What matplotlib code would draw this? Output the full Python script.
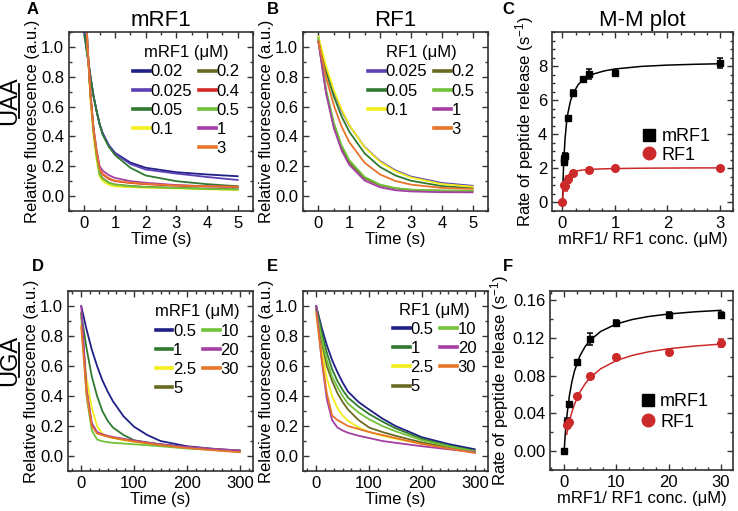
import matplotlib
matplotlib.use("Agg")
import matplotlib.pyplot as plt
from matplotlib.lines import Line2D
from matplotlib.ticker import MultipleLocator

plt.rcParams['font.family'] = ['Liberation Sans', 'DejaVu Sans']
plt.rcParams['mathtext.fontset'] = 'custom'
plt.rcParams['mathtext.rm'] = 'Liberation Sans'
plt.rcParams['mathtext.it'] = 'Liberation Sans:italic'

# colours per concentration
C_NAVY = '#1f1f86'
C_SLATE = '#5b3fb4'
C_DGREEN = '#2f7a30'
C_YELLOW = '#f2ee1c'
C_OLIVE = '#6b6a22'
C_RED = '#d42a24'
C_LGREEN = '#72c23a'
C_PURPLE = '#a43fa4'
C_ORANGE = '#e8742a'
C_MMRED = '#cc2a2a'

# ---- A: UAA, mRF1 time courses ----
t_a = [0, 0.1, 0.2, 0.3, 0.4, 0.5, 0.6, 0.8, 1.0, 1.5, 2, 3, 4, 5]
a_conc = ['0.02', '0.025', '0.05', '0.1', '0.2', '0.4', '0.5', '1', '3']
a_cols = [C_NAVY, C_SLATE, C_DGREEN, C_YELLOW, C_OLIVE, C_RED, C_LGREEN, C_PURPLE, C_ORANGE]
a_002 = [1.10, 0.95, 0.80, 0.67, 0.57, 0.48, 0.42, 0.34, 0.29, 0.225, 0.19, 0.16, 0.145, 0.133]
a_0025 = [1.10, 0.95, 0.80, 0.67, 0.57, 0.48, 0.42, 0.34, 0.285, 0.215, 0.178, 0.151, 0.128, 0.108]
a_005 = [1.08, 0.94, 0.80, 0.67, 0.57, 0.48, 0.41, 0.33, 0.275, 0.19, 0.138, 0.10, 0.08, 0.066]
a_01 = [1.55, 1.00, 0.64, 0.40, 0.24, 0.13, 0.10, 0.075, 0.064, 0.06, 0.056, 0.052, 0.046, 0.040]
a_02 = [1.55, 1.02, 0.68, 0.44, 0.28, 0.15, 0.12, 0.09, 0.078, 0.068, 0.062, 0.056, 0.050, 0.046]
a_04 = [1.55, 1.02, 0.68, 0.44, 0.29, 0.175, 0.145, 0.115, 0.10, 0.088, 0.08, 0.07, 0.065, 0.063]
a_05 = [1.55, 1.02, 0.67, 0.43, 0.27, 0.145, 0.115, 0.088, 0.076, 0.066, 0.06, 0.054, 0.048, 0.044]
a_1 = [1.55, 1.03, 0.69, 0.46, 0.31, 0.20, 0.17, 0.14, 0.122, 0.10, 0.089, 0.074, 0.066, 0.06]
a_3 = [1.55, 1.02, 0.68, 0.45, 0.30, 0.18, 0.15, 0.12, 0.103, 0.09, 0.082, 0.071, 0.066, 0.062]
a_curves = [a_002, a_0025, a_005, a_01, a_02, a_04, a_05, a_1, a_3]

# ---- B: UAA, RF1 time courses ----
t_b = [0, 0.25, 0.5, 0.75, 1, 1.5, 2, 2.5, 3, 4, 5]
b_conc = ['0.025', '0.05', '0.1', '0.2', '0.5', '1', '3']
b_cols = [C_SLATE, C_DGREEN, C_YELLOW, C_OLIVE, C_LGREEN, C_PURPLE, C_ORANGE]
b_0025 = [1.035, 0.848, 0.696, 0.573, 0.474, 0.329, 0.234, 0.172, 0.131, 0.088, 0.069]
b_005 = [1.045, 0.834, 0.667, 0.535, 0.432, 0.286, 0.195, 0.138, 0.103, 0.067, 0.054]
b_01 = [1.07, 0.871, 0.710, 0.581, 0.477, 0.326, 0.229, 0.166, 0.125, 0.081, 0.063]
b_02 = [1.035, 0.697, 0.473, 0.325, 0.227, 0.119, 0.072, 0.051, 0.042, 0.036, 0.035]
b_05 = [1.06, 0.715, 0.493, 0.342, 0.241, 0.128, 0.077, 0.054, 0.043, 0.037, 0.035]
b_1 = [1.035, 0.686, 0.456, 0.307, 0.210, 0.104, 0.059, 0.039, 0.031, 0.026, 0.025]
b_3 = [1.04, 0.795, 0.608, 0.467, 0.362, 0.223, 0.145, 0.101, 0.077, 0.055, 0.048]
b_curves = [b_0025, b_005, b_01, b_02, b_05, b_1, b_3]

# ---- D: UGA, mRF1 time courses ----
t_d = [0, 10, 20, 30, 40, 50, 60, 80, 100, 125, 150, 200, 250, 300]
d_conc = ['0.5', '1', '2.5', '5', '10', '20', '30']
d_cols = [C_NAVY, C_DGREEN, C_YELLOW, C_OLIVE, C_LGREEN, C_PURPLE, C_ORANGE]
d_05 = [1.0, 0.845, 0.71, 0.60, 0.505, 0.43, 0.365, 0.265, 0.195, 0.14, 0.10, 0.065, 0.048, 0.036]
d_1 = [0.95, 0.72, 0.53, 0.40, 0.30, 0.235, 0.19, 0.14, 0.105, 0.09, 0.078, 0.058, 0.045, 0.035]
d_25 = [0.88, 0.52, 0.32, 0.20, 0.15, 0.13, 0.12, 0.105, 0.095, 0.082, 0.072, 0.057, 0.045, 0.035]
d_5 = [0.95, 0.44, 0.21, 0.155, 0.14, 0.13, 0.122, 0.11, 0.10, 0.088, 0.077, 0.058, 0.045, 0.035]
d_10 = [0.95, 0.40, 0.17, 0.11, 0.098, 0.092, 0.088, 0.083, 0.078, 0.072, 0.065, 0.05, 0.04, 0.03]
d_20 = [1.0, 0.45, 0.22, 0.16, 0.145, 0.135, 0.127, 0.115, 0.103, 0.09, 0.078, 0.06, 0.047, 0.037]
d_30 = [0.86, 0.42, 0.20, 0.15, 0.14, 0.13, 0.122, 0.11, 0.097, 0.085, 0.073, 0.053, 0.038, 0.025]
d_curves = [d_05, d_1, d_25, d_5, d_10, d_20, d_30]

# ---- E: UGA, RF1 time courses ----
t_e = t_d
e_conc = d_conc
e_cols = d_cols
e_05 = [1.0, 0.86, 0.74, 0.64, 0.56, 0.49, 0.43, 0.36, 0.31, 0.25, 0.20, 0.125, 0.08, 0.045]
e_1 = [1.0, 0.83, 0.69, 0.58, 0.50, 0.44, 0.39, 0.33, 0.28, 0.23, 0.185, 0.115, 0.07, 0.035]
e_25 = [0.98, 0.72, 0.52, 0.40, 0.32, 0.27, 0.235, 0.19, 0.16, 0.135, 0.115, 0.08, 0.055, 0.03]
e_5 = [0.98, 0.77, 0.60, 0.50, 0.42, 0.36, 0.31, 0.24, 0.19, 0.16, 0.135, 0.09, 0.06, 0.03]
e_10 = [0.97, 0.79, 0.64, 0.53, 0.46, 0.40, 0.35, 0.29, 0.245, 0.20, 0.165, 0.105, 0.065, 0.03]
e_20 = [1.0, 0.65, 0.38, 0.24, 0.19, 0.17, 0.155, 0.135, 0.12, 0.10, 0.088, 0.065, 0.045, 0.025]
e_30 = [0.95, 0.66, 0.42, 0.27, 0.24, 0.22, 0.20, 0.18, 0.16, 0.14, 0.12, 0.08, 0.05, 0.02]
e_curves = [e_05, e_1, e_25, e_5, e_10, e_20, e_30]

# ---- C: M-M plot, UAA ----
c_m_x = [0.02, 0.025, 0.05, 0.1, 0.2, 0.4, 0.5, 1, 3]
c_m_y = [2.4, 2.55, 2.75, 4.95, 6.45, 7.25, 7.55, 7.6, 8.2]
c_m_err = [0.1, 0.15, 0.15, 0.1, 0.15, 0.1, 0.3, 0.15, 0.3]
c_r_x = [0, 0.025, 0.05, 0.1, 0.2, 0.5, 1, 3]
c_r_y = [0.0, 1.0, 0.95, 1.35, 1.75, 1.9, 2.0, 2.0]
c_r_err = [0.05, 0.1, 0.25, 0.2, 0.1, 0.1, 0.1, 0.12]
c_fit_x = [0, 0.01, 0.02, 0.03, 0.05, 0.075, 0.1, 0.15, 0.2, 0.3, 0.4, 0.6, 0.8, 1.0, 1.5, 2, 2.5, 3]
c_fit_m = [0, 1.186, 2.075, 2.767, 3.773, 4.611, 5.188, 5.929, 6.385, 6.917, 7.217, 7.545,
           7.721, 7.830, 7.981, 8.058, 8.105, 8.137]
c_fit_r = [0, 0.513, 0.82, 1.025, 1.281, 1.464, 1.577, 1.708, 1.783, 1.864, 1.907, 1.952,
           1.976, 1.990, 2.010, 2.020, 2.026, 2.030]

# ---- F: M-M plot, UGA ----
f_m_x = [0, 0.5, 1, 2.5, 5, 10, 20, 30]
f_m_y = [0.0, 0.031, 0.050, 0.095, 0.119, 0.136, 0.145, 0.145]
f_m_err = [0.001, 0.004, 0.002, 0.002, 0.006, 0.003, 0.003, 0.003]
f_r_x = [0.5, 1, 2.5, 5, 10, 20, 30]
f_r_y = [0.028, 0.031, 0.059, 0.080, 0.100, 0.105, 0.115]
f_r_err = [0.002, 0.002, 0.002, 0.002, 0.002, 0.002, 0.004]
f_fit_x = [0, 0.25, 0.5, 1, 1.5, 2, 3, 4, 5, 7, 10, 13, 16, 20, 25, 30]
f_fit_m = [0, 0.0203, 0.0359, 0.0585, 0.0741, 0.0854, 0.1009, 0.1109, 0.1179, 0.1271,
           0.1350, 0.1397, 0.1428, 0.1456, 0.1479, 0.1495]
f_fit_r = [0, 0.0096, 0.0179, 0.0313, 0.0417, 0.05, 0.0625, 0.0714, 0.0781, 0.0875,
           0.0962, 0.1016, 0.1053, 0.1087, 0.1116, 0.1136]

FS = 12
W, H = 738, 511


def box(l, r, t, b):
    return [l / W, (H - b) / H, (r - l) / W, (b - t) / H]


def style(ax, xmin, ymin):
    ax.tick_params(which='both', direction='in', top=True, right=True, labelsize=FS,
                   width=1.0, color='#333333')
    ax.tick_params(which='major', length=4)
    ax.tick_params(which='minor', length=2.5)
    ax.xaxis.set_minor_locator(MultipleLocator(xmin))
    ax.yaxis.set_minor_locator(MultipleLocator(ymin))
    for s in ax.spines.values():
        s.set_linewidth(1.2)
        s.set_color('#333333')


def decay_panel(ax, t, curves, cols, labels, title_lab, xlim, xmaj, xmin, blank_at, pad):
    for y, c in zip(curves, cols):
        ax.plot(t, y, color=c, lw=1.3)
    ax.set_xlim(*xlim)
    ax.set_ylim(-0.1, 1.1)
    ax.xaxis.set_major_locator(MultipleLocator(xmaj))
    ax.set_yticks([0, 0.2, 0.4, 0.6, 0.8, 1.0])
    ax.set_yticklabels(['0.0', '0.2', '0.4', '0.6', '0.8', '1.0'])
    style(ax, xmin, 0.1)
    ax.set_xlabel('Time (s)', fontsize=FS, labelpad=1)
    ax.set_ylabel('Relative fluorescence (a.u.)', fontsize=FS, labelpad=1)
    handles = [Line2D([], [], color=c, lw=2.6) for c in cols]
    labs = list(labels)
    if blank_at is not None:
        handles.insert(blank_at, Line2D([], [], color='none'))
        labs.insert(blank_at, '')
    leg = ax.legend(handles, labs, ncol=2, loc='upper right', frameon=False,
                    fontsize=FS, title=title_lab, title_fontsize=FS,
                    handlelength=1.0, handletextpad=0.05, columnspacing=0.4,
                    labelspacing=0.25, borderaxespad=pad, borderpad=0.2)
    leg._legend_box.align = 'center'


fig = plt.figure(figsize=(7.38, 5.11), dpi=100)

axA = fig.add_axes(box(69, 253, 32, 211))
decay_panel(axA, t_a, a_curves, a_cols, a_conc, 'mRF1 (μM)', (-0.5, 5.5), 1, 0.5, 4, 0.6)
axA.set_title('mRF1', fontsize=16, pad=4)

axB = fig.add_axes(box(303, 488, 32, 211))
decay_panel(axB, t_b, b_curves, b_cols, b_conc, 'RF1 (μM)', (-0.5, 5.5), 1, 0.5, 3, 0.6)
axB.set_title('RF1', fontsize=16, pad=4)

axD = fig.add_axes(box(68, 253, 291, 471))
decay_panel(axD, t_d, d_curves, d_cols, d_conc, 'mRF1 (μM)', (-25, 325), 100, 100 / 6, None, 0.6)

axE = fig.add_axes(box(303, 488, 291, 471))
decay_panel(axE, t_e, e_curves, e_cols, e_conc, 'RF1 (μM)', (-25, 325), 100, 100 / 6, None, 0.5)

# M-M plots
axC = fig.add_axes(box(552, 733, 32, 211))
axC.plot(c_fit_x, c_fit_m, color='black', lw=1.1)
axC.plot(c_fit_x, c_fit_r, color=C_MMRED, lw=1.1)
axC.errorbar(c_m_x, c_m_y, yerr=c_m_err, fmt='s', color='black', ms=5, capsize=2.5,
             elinewidth=1.1, capthick=1.1)
axC.errorbar(c_r_x, c_r_y, yerr=c_r_err, fmt='o', color=C_MMRED, ms=5.5, capsize=2.5,
             elinewidth=1.1, capthick=1.1)
axC.set_xlim(-0.2, 3.25)
axC.set_ylim(-0.5, 10)
axC.set_xticks([0, 1, 2, 3])
axC.set_yticks([0, 2, 4, 6, 8])
style(axC, 0.25, 0.5)
axC.set_xlabel('mRF1/ RF1 conc. (μM)', fontsize=FS, labelpad=1)
axC.set_ylabel('Rate of peptide release (s$^{-1}$)', fontsize=FS, labelpad=1)
axC.set_title('M-M plot', fontsize=16, pad=4)

axF = fig.add_axes(box(550, 733, 291, 470))
axF.plot(f_fit_x, f_fit_m, color='black', lw=1.1)
axF.plot(f_fit_x[2:], f_fit_r[2:], color=C_MMRED, lw=1.1)
axF.errorbar(f_m_x, f_m_y, yerr=f_m_err, fmt='s', color='black', ms=5, capsize=2.5,
             elinewidth=1.1, capthick=1.1)
axF.errorbar(f_r_x, f_r_y, yerr=f_r_err, fmt='o', color=C_MMRED, ms=5.5, capsize=2.5,
             elinewidth=1.1, capthick=1.1)
axF.set_xlim(-2.7, 32.3)
axF.set_ylim(-0.02, 0.17)
axF.set_xticks([0, 10, 20, 30])
axF.set_yticks([0, 0.04, 0.08, 0.12, 0.16])
axF.set_yticklabels(['0.00', '0.04', '0.08', '0.12', '0.16'])
style(axF, 2.5, 0.02)
axF.set_xlabel('mRF1/ RF1 conc. (μM)', fontsize=FS, labelpad=1)
axF.set_ylabel('Rate of peptide release (s$^{-1}$)', fontsize=FS, labelpad=1)

for ax, ytop, lsp in ((axC, 0.525, 0.1), (axF, 0.49, 0.2)):
    hs = [Line2D([], [], marker='s', color='black', ls='none', ms=8),
          Line2D([], [], marker='o', color=C_MMRED, ls='none', ms=9)]
    ax.legend(hs, ['mRF1', 'RF1'], loc='upper left', bbox_to_anchor=(0.43, ytop),
              frameon=False, fontsize=13, handlelength=0.9, handletextpad=0.25,
              labelspacing=lsp, borderpad=0.1)

# panel letters
for lab, x, y in (('A', 27, 2), ('B', 267, 2), ('C', 502, 2),
                  ('D', 32, 259), ('E', 267, 259), ('F', 503, 259)):
    fig.text(x / W, 1 - y / H, lab, fontsize=12, fontweight='bold', ha='left', va='top')

# stop codon labels, underlined (text is rotated, underline sits to its right)
for lab, yc in (('UAA', 101), ('UGA', 360)):
    fig.text(10 / W, 1 - yc / H, lab, fontsize=17, rotation=90, ha='center', va='center')
    fig.add_artist(Line2D([19 / W, 19 / W], [1 - (yc - 17) / H, 1 - (yc + 17) / H],
                          color='black', lw=1.3))

fig.savefig('out.png', dpi=100)
